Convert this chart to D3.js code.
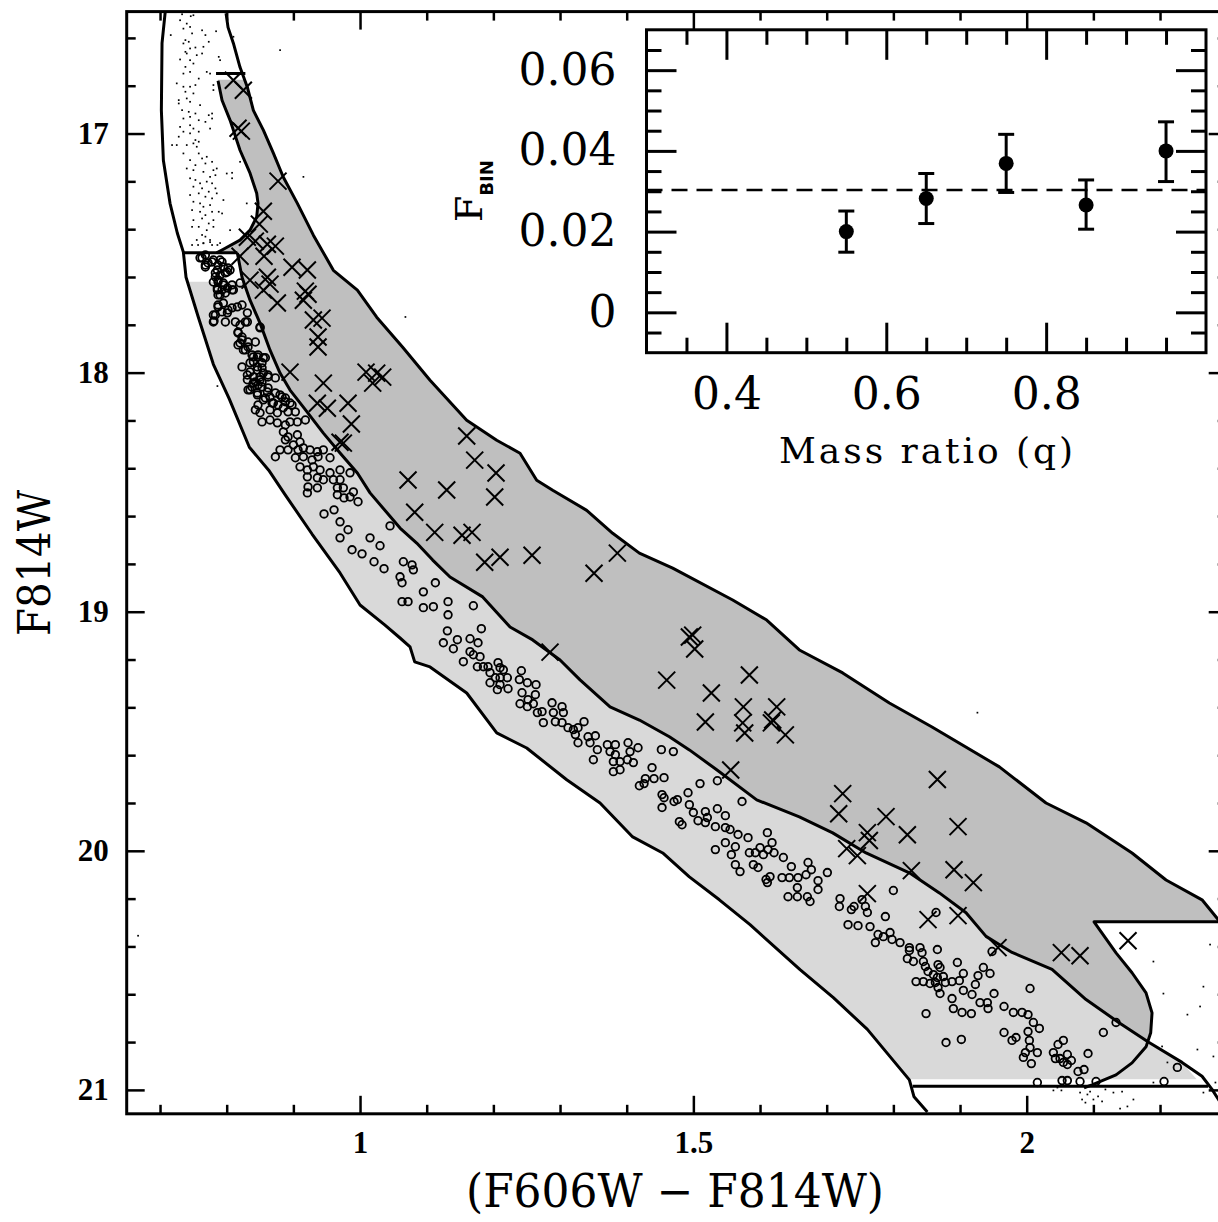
<!DOCTYPE html>
<html>
<head>
<meta charset="utf-8">
<script src="https://cdn.jsdelivr.net/npm/d3@7"></script>
<style>
  html, body { margin: 0; padding: 0; background: #fff; overflow: hidden; }
  svg { display: block; }
</style>
</head>
<body>
<script>
// CMD boundaries, [color, mag]
const blueEdge = [[0.708,16.485],[0.703,16.622],[0.702,16.903],[0.705,17.112],[0.715,17.292],[0.726,17.417],[0.735,17.496],[0.739,17.601],[0.757,17.764],[0.780,17.965],[0.804,18.111],[0.834,18.312],[0.863,18.408],[0.887,18.508],[0.928,18.675],[0.970,18.838],[1.000,18.972],[1.037,19.055],[1.060,19.110],[1.075,19.147],[1.082,19.210],[1.105,19.231],[1.160,19.340],[1.205,19.507],[1.250,19.570],[1.310,19.703],[1.360,19.800],[1.409,19.942],[1.454,20.009],[1.494,20.109],[1.539,20.205],[1.585,20.309],[1.660,20.497],[1.710,20.614],[1.761,20.747],[1.824,20.958],[1.831,21.029],[1.851,21.092]];
const midLine = [[0.816,17.500],[0.823,17.601],[0.835,17.697],[0.850,17.793],[0.865,17.906],[0.880,18.002],[0.895,18.073],[0.915,18.144],[0.945,18.253],[0.970,18.336],[0.996,18.420],[1.015,18.503],[1.060,18.650],[1.085,18.713],[1.109,18.784],[1.135,18.855],[1.184,18.938],[1.225,19.064],[1.259,19.118],[1.300,19.202],[1.330,19.285],[1.375,19.398],[1.419,19.453],[1.464,19.523],[1.494,19.578],[1.535,19.661],[1.595,19.787],[1.659,19.858],[1.709,19.925],[1.759,20.009],[1.824,20.092],[1.869,20.176],[1.909,20.259],[1.939,20.358],[1.978,20.425],[2.038,20.496],[2.089,20.622],[2.138,20.718],[2.183,20.801],[2.233,20.885],[2.263,20.943],[2.278,20.998],[2.290,21.050]];
const redEdge = [[0.799,16.497],[0.802,16.556],[0.810,16.622],[0.820,16.723],[0.831,16.806],[0.840,16.903],[0.855,16.986],[0.870,17.082],[0.885,17.183],[0.906,17.292],[0.930,17.425],[0.960,17.572],[0.996,17.655],[1.025,17.768],[1.064,17.894],[1.105,18.032],[1.160,18.199],[1.205,18.283],[1.240,18.337],[1.265,18.450],[1.289,18.492],[1.340,18.576],[1.379,18.672],[1.419,18.755],[1.469,18.818],[1.559,18.951],[1.610,19.035],[1.659,19.160],[1.724,19.256],[1.794,19.382],[1.858,19.482],[1.959,19.649],[2.029,19.800],[2.089,19.883],[2.158,20.009],[2.209,20.122],[2.263,20.205],[2.285,20.280],[2.300,20.330]];
const binLoop = [[2.300,20.297],[2.101,20.297],[2.134,20.427],[2.158,20.510],[2.179,20.594],[2.188,20.678],[2.186,20.761],[2.179,20.820],[2.158,20.887],[2.134,20.937],[2.098,20.979],[2.086,20.991]];
const toCurve = [[0.787,16.779],[0.793,16.861],[0.805,16.944],[0.820,17.070],[0.835,17.166],[0.845,17.250],[0.847,17.292],[0.845,17.349],[0.835,17.404],[0.820,17.446],[0.795,17.484],[0.785,17.499]];
const topCap = [[0.784,16.749],[0.828,16.749]];
const toBase = [[0.735,17.499],[0.816,17.499]];
const faintCut = [[1.829,20.985],[2.272,20.985]];

// single stars (open circles)
const singles = [[0.763,17.520],[0.768,17.550],[0.778,17.537],[0.790,17.529],[0.795,17.558],[0.783,17.583],[0.801,17.579],[0.805,17.571],[0.780,17.621],[0.787,17.612],[0.795,17.633],[0.786,17.654],[0.790,17.675],[0.808,17.654],[0.820,17.625],[0.787,17.717],[0.795,17.709],[0.802,17.738],[0.816,17.725],[0.823,17.717],[0.783,17.759],[0.780,17.788],[0.798,17.788],[0.813,17.788],[0.831,17.750],[0.820,17.801],[0.831,17.788],[0.817,17.830],[0.823,17.851],[0.832,17.872],[0.820,17.876],[0.828,17.905],[0.843,17.872],[0.850,17.813],[0.840,17.934],[0.847,17.926],[0.858,17.938],[0.835,17.959],[0.846,17.976],[0.853,17.980],[0.823,17.976],[0.831,18.010],[0.840,18.018],[0.850,18.018],[0.862,18.010],[0.873,18.022],[0.840,18.043],[0.847,18.051],[0.853,18.039],[0.835,18.072],[0.846,18.085],[0.861,18.081],[0.865,18.102],[0.855,18.114],[0.870,18.127],[0.880,18.093],[0.888,18.106],[0.895,18.127],[0.843,18.156],[0.850,18.168],[0.865,18.156],[0.876,18.168],[0.885,18.147],[0.892,18.164],[0.903,18.164],[0.853,18.206],[0.865,18.198],[0.876,18.210],[0.888,18.219],[0.895,18.206],[0.906,18.206],[0.918,18.198],[0.885,18.248],[0.892,18.269],[0.906,18.260],[0.910,18.290],[0.888,18.281],[0.900,18.302],[0.907,18.323],[0.915,18.315],[0.925,18.323],[0.936,18.331],[0.945,18.323],[0.880,18.323],[0.892,18.323],[0.873,18.352],[0.903,18.356],[0.915,18.352],[0.928,18.365],[0.937,18.352],[0.955,18.356],[0.910,18.394],[0.921,18.407],[0.930,18.394],[0.940,18.407],[0.955,18.419],[0.970,18.407],[0.985,18.419],[0.921,18.436],[0.936,18.440],[0.945,18.448],[0.960,18.448],[0.970,18.448],[0.922,18.478],[0.936,18.482],[0.966,18.482],[0.975,18.482],[0.990,18.499],[0.921,18.503],[0.966,18.511],[0.985,18.520],
[0.760,17.520],[0.768,17.508],[0.772,17.541],[0.780,17.529],[0.787,17.550],[0.793,17.537],[0.768,17.558],[0.786,17.571],[0.802,17.562],[0.783,17.600],[0.790,17.592],[0.798,17.583],[0.787,17.621],[0.795,17.625],[0.808,17.633],[0.786,17.646],[0.793,17.654],[0.801,17.646],[0.810,17.654],[0.787,17.675],[0.798,17.667],[0.787,17.725],[0.793,17.746],[0.801,17.750],[0.808,17.729],[0.780,17.759],[0.781,17.784],[0.828,17.788],[0.850,17.809],[0.817,17.834],[0.823,17.863],[0.817,17.884],[0.825,17.905],[0.832,17.893],[0.838,17.926],[0.846,17.934],[0.855,17.938],[0.840,17.955],[0.853,17.959],[0.835,17.997],[0.846,17.989],[0.855,18.001],[0.862,18.018],[0.831,18.030],[0.843,18.039],[0.850,18.030],[0.838,18.060],[0.853,18.060],[0.862,18.064],[0.832,18.072],[0.846,18.093],[0.858,18.106],[0.873,18.085],[0.883,18.102],[0.888,18.122],[0.847,18.135],[0.868,18.127],[0.877,18.135],[0.898,18.135],
[0.976,18.524],[0.997,18.540],[0.946,18.591],[0.961,18.574],[0.970,18.624],[0.982,18.657],[0.970,18.691],[0.988,18.741],[1.003,18.758],[1.015,18.691],[1.030,18.724],[1.021,18.791],[1.045,18.641],[1.036,18.820],
[1.065,18.791],[1.078,18.804],[1.080,18.825],[1.060,18.854],[1.063,18.879],[1.113,18.879],[1.095,18.917],[1.063,18.958],[1.072,18.958],[1.132,18.958],[1.095,18.983],[1.110,18.979],[1.132,19.013],[1.170,18.975],[1.131,19.080],[1.182,19.071],[1.146,19.117],[1.125,19.130],[1.140,19.155],[1.165,19.113],[1.177,19.130],[1.165,19.167],[1.170,19.180],[1.155,19.209],[1.180,19.188],[1.176,19.230],[1.185,19.230],[1.192,19.230],[1.207,19.213],[1.210,19.234],[1.215,19.243],[1.195,19.255],[1.203,19.276],[1.210,19.276],[1.221,19.276],[1.195,19.297],[1.210,19.305],[1.206,19.326],[1.222,19.322],[1.242,19.247],[1.239,19.284],[1.251,19.297],[1.264,19.305],[1.243,19.339],[1.240,19.385],[1.252,19.368],[1.263,19.347],[1.251,19.397],[1.260,19.385],[1.266,19.422],[1.273,19.418],[1.275,19.464],[1.288,19.381],[1.290,19.422],[1.293,19.460],[1.303,19.397],[1.305,19.422],[1.303,19.464],[1.312,19.485],[1.320,19.493],[1.327,19.485],[1.323,19.514],[1.336,19.460],[1.327,19.548],[1.342,19.523],[1.353,19.519],[1.345,19.548],[1.356,19.577],[1.350,19.619],[1.371,19.556],[1.383,19.556],[1.375,19.585],[1.383,19.598],[1.380,19.627],[1.390,19.627],[1.401,19.619],[1.410,19.631],[1.380,19.669],[1.390,19.661],[1.402,19.548],[1.405,19.585],[1.417,19.569],[1.452,19.577],[1.470,19.585],[1.438,19.652],[1.428,19.698],[1.441,19.698],[1.456,19.694],[1.419,19.728],[1.426,19.719],[1.453,19.765],[1.456,19.778],[1.453,19.819],[1.471,19.794],[1.476,19.786],[1.492,19.757],[1.510,19.719],[1.536,19.707],[1.573,19.794],[1.494,19.807],[1.500,19.840],[1.518,19.836],[1.536,19.824],[1.548,19.853],[1.479,19.878],[1.483,19.891],[1.507,19.874],[1.518,19.882],[1.533,19.899],[1.521,19.861],[1.548,19.903],[1.555,19.911],[1.548,19.966],[1.563,19.983],[1.567,19.932],[1.582,19.945],[1.611,19.924],[1.533,19.995],[1.557,20.016],[1.584,20.008],[1.593,20.008],[1.600,19.987],[1.605,20.016],[1.612,19.995],[1.618,19.966],[1.621,20.008],[1.635,20.028],[1.563,20.058],[1.570,20.087],[1.590,20.058],[1.597,20.070],[1.609,20.120],[1.615,20.108],[1.611,20.133],[1.633,20.112],[1.644,20.112],[1.647,20.066],[1.657,20.112],[1.669,20.100],[1.672,20.049],[1.677,20.079],[1.687,20.125],[1.701,20.091],[1.656,20.154],[1.642,20.192],[1.656,20.192],[1.671,20.192],[1.675,20.212],[1.687,20.162],[1.720,20.200],[1.719,20.233],[1.737,20.246],[1.741,20.233],[1.753,20.204],[1.758,20.233],[1.761,20.258],[1.788,20.275],[1.800,20.166],
[1.732,20.309],[1.747,20.313],[1.765,20.317],[1.864,20.258],[1.777,20.350],[1.785,20.359],[1.795,20.342],[1.773,20.384],[1.798,20.371],[1.810,20.384],[1.824,20.405],[1.824,20.417],[1.840,20.405],[1.843,20.426],[1.866,20.413],[1.821,20.451],[1.830,20.463],[1.845,20.463],[1.848,20.484],[1.867,20.476],[1.870,20.488],[1.852,20.505],[1.860,20.518],[1.866,20.530],[1.875,20.526],[1.834,20.547],[1.845,20.547],[1.855,20.555],[1.863,20.551],[1.867,20.572],[1.870,20.597],[1.878,20.551],[1.888,20.547],[1.896,20.467],[1.905,20.513],[1.899,20.543],[1.923,20.559],[1.927,20.522],[1.935,20.488],[1.945,20.513],[1.948,20.421],[1.905,20.584],[1.918,20.601],[1.888,20.618],[1.890,20.660],[1.903,20.676],[1.917,20.681],[1.930,20.635],[1.941,20.635],[1.942,20.660],[1.951,20.597],[2.005,20.576],[1.849,20.681],[1.966,20.651],[1.980,20.676],[1.993,20.676],[2.002,20.685],[2.010,20.718],[2.019,20.743],[2.002,20.756],[1.966,20.760],[1.978,20.793],[1.984,20.781],[2.004,20.793],[2.005,20.823],[2.016,20.844],[1.998,20.844],[1.995,20.864],[2.007,20.890],[1.879,20.802],[1.902,20.789],[2.040,20.844],[2.047,20.810],[2.055,20.793],[2.043,20.869],[2.050,20.869],[2.061,20.852],[2.055,20.885],[2.067,20.877],[2.061,20.894],[2.092,20.848],[2.077,20.923],[2.086,20.915],[2.016,20.969],[2.053,20.961],[2.061,20.961],[2.080,20.965],[2.104,20.965],[2.115,20.760],[2.134,20.718],[2.206,20.965],[2.226,20.906]];

// binary candidates (crosses)
const binaries = [[0.810,16.777],[0.825,16.819],[0.817,16.978],[0.822,16.990],[0.877,17.199],[0.855,17.325],[0.849,17.379],[0.831,17.434],[0.843,17.450],[0.861,17.463],[0.873,17.471],[0.820,17.513],[0.856,17.513],[0.898,17.559],[0.921,17.571],[0.835,17.613],[0.861,17.601],[0.865,17.630],[0.855,17.655],[0.918,17.659],[0.922,17.672],[0.915,17.697],[0.876,17.709],[0.930,17.780],[0.943,17.772],[0.937,17.851],[0.937,17.893],[0.895,17.998],[0.945,18.044],[1.009,17.998],[1.025,18.002],[1.034,18.019],[1.019,18.044],[0.936,18.128],[0.951,18.149],[0.982,18.128],[0.987,18.215],[0.970,18.291],[0.975,18.295],[1.072,18.449],[1.160,18.265],[1.172,18.366],[1.204,18.420],[1.130,18.491],[1.202,18.520],[1.082,18.584],[1.112,18.668],[1.153,18.680],[1.168,18.668],[1.187,18.793],[1.210,18.772],[1.258,18.764],[1.351,18.839],[1.386,18.755],[1.285,19.169],[1.499,19.098],[1.494,19.106],[1.502,19.156],[1.460,19.286],[1.584,19.265],[1.527,19.340],[1.575,19.398],[1.518,19.461],[1.574,19.465],[1.577,19.507],[1.625,19.398],[1.619,19.453],[1.638,19.515],[1.617,19.465],[1.556,19.662],[1.724,19.761],[1.718,19.845],[1.789,19.857],[1.761,19.924],[1.764,19.957],[1.730,19.991],[1.746,20.020],[1.866,19.702],[1.821,19.933],[1.897,19.899],[1.827,20.083],[1.891,20.079],[1.920,20.133],[1.761,20.179],[1.852,20.288],[1.897,20.271],[1.957,20.405],[2.052,20.426],[2.080,20.439],[2.152,20.376]];

// everything else (small dots)
const fieldDots = [[0.733,16.501],[0.746,16.509],[0.750,16.505],[0.730,16.526],[0.740,16.540],[0.735,16.561],[0.745,16.554],[0.716,16.588],[0.748,16.581],[0.763,16.568],[0.768,16.588],[0.784,16.572],[0.738,16.609],[0.735,16.623],[0.743,16.616],[0.773,16.616],[0.765,16.637],[0.745,16.644],[0.753,16.640],[0.738,16.658],[0.740,16.665],[0.755,16.672],[0.763,16.665],[0.788,16.679],[0.790,16.693],[0.730,16.690],[0.745,16.693],[0.738,16.721],[0.750,16.707],[0.735,16.749],[0.745,16.742],[0.770,16.742],[0.775,16.749],[0.758,16.770],[0.725,16.790],[0.735,16.804],[0.745,16.804],[0.753,16.797],[0.780,16.797],[0.780,16.818],[0.738,16.825],[0.750,16.832],[0.728,16.860],[0.740,16.853],[0.745,16.867],[0.728,16.874],[0.760,16.881],[0.733,16.902],[0.743,16.909],[0.753,16.916],[0.773,16.923],[0.778,16.916],[0.735,16.937],[0.745,16.930],[0.758,16.944],[0.768,16.951],[0.778,16.937],[0.730,16.972],[0.745,16.965],[0.750,16.979],[0.735,16.992],[0.728,17.013],[0.745,16.999],[0.758,16.992],[0.775,16.979],[0.753,17.027],[0.758,17.034],[0.718,17.048],[0.725,17.048],[0.740,17.048],[0.750,17.041],[0.755,17.055],[0.735,17.083],[0.758,17.083],[0.745,17.111],[0.763,17.104],[0.770,17.097],[0.753,17.132],[0.768,17.125],[0.778,17.118],[0.740,17.146],[0.750,17.153],[0.765,17.160],[0.780,17.153],[0.785,17.146],[0.775,17.181],[0.783,17.174],[0.800,17.167],[0.808,17.164],[0.808,17.187],[0.745,17.187],[0.753,17.194],[0.760,17.208],[0.770,17.201],[0.778,17.208],[0.750,17.222],[0.763,17.229],[0.773,17.243],[0.783,17.229],[0.745,17.257],[0.758,17.250],[0.768,17.264],[0.778,17.271],[0.785,17.250],[0.750,17.285],[0.760,17.292],[0.765,17.306],[0.775,17.299],[0.795,17.278],[0.830,17.292],[0.748,17.320],[0.760,17.327],[0.768,17.341],[0.778,17.327],[0.788,17.327],[0.793,17.334],[0.750,17.362],[0.763,17.355],[0.773,17.376],[0.780,17.362],[0.748,17.390],[0.758,17.390],[0.770,17.404],[0.780,17.390],[0.763,17.424],[0.768,17.431],[0.775,17.445],[0.755,17.445],[0.765,17.459],[0.805,17.404],[0.748,17.466],[0.757,17.466],[0.765,17.458],[0.775,17.454],[0.778,17.466],[0.786,17.466],[0.790,17.458],
[0.820,17.118],[0.915,17.181],[0.880,16.651],[0.810,16.595],[1.068,17.767],[0.786,18.056],[0.667,20.355],[1.926,19.422],[2.275,20.392],[2.190,20.463],[2.265,20.568],[2.205,20.597],[2.260,20.651],[2.241,20.685],[2.203,20.818],[2.280,20.860],[2.256,20.831],[2.211,20.885],[2.190,20.969],[2.040,21.002],[2.046,20.990],[2.080,21.011],[2.083,21.040],[2.088,21.053],[2.091,21.019],[2.095,21.007],[2.107,21.027],[2.113,21.048],[2.118,20.998],[2.130,21.011],[2.143,21.007],[2.151,21.069],[2.160,21.040],[2.283,20.969],[2.265,21.011],[2.140,21.078],[2.052,21.002],[2.100,21.040]];

// main axes ticks
const xTicks = [1, 1.5, 2];
const xMinor = [0.7, 0.8, 0.9, 1.1, 1.2, 1.3, 1.4, 1.6, 1.7, 1.8, 1.9, 2.1, 2.2];
const yTicks = [17, 18, 19, 20, 21];
const yMinor = [16.6, 16.8, 17.2, 17.4, 17.6, 17.8, 18.2, 18.4, 18.6, 18.8, 19.2, 19.4, 19.6, 19.8, 20.2, 20.4, 20.6, 20.8];

// inset: binary fraction vs mass ratio
const massRatio = [0.55, 0.65, 0.75, 0.85, 0.95];
const fBin = [0.0200, 0.0282, 0.0369, 0.0266, 0.0400];
const fBinLow = [0.0149, 0.0220, 0.0297, 0.0206, 0.0324];
const fBinHigh = [0.0251, 0.0344, 0.0441, 0.0328, 0.0472];
const fBinMean = 0.0303;
const qTicks = [0.4, 0.6, 0.8];
const qMinor = [0.35, 0.45, 0.5, 0.55, 0.65, 0.7, 0.75, 0.85, 0.9, 0.95];
const fTicks = [0, 0.02, 0.04, 0.06];
const fMinor = [-0.005, 0.005, 0.01, 0.015, 0.025, 0.03, 0.035, 0.045, 0.05, 0.055, 0.065];

const W = 1218, H = 1222;
const svg = d3.select("body").append("svg").attr("width", W).attr("height", H);

const x = d3.scaleLinear().domain([0.65, 2.3]).range([126.7, 1226.7]);
const y = d3.scaleLinear().domain([16.49, 21.1]).range([11.6, 1113.8]);
const line = d3.line().x(d => x(d[0])).y(d => y(d[1]));

// color of a boundary at a given magnitude
function colorAt(pts, m) {
  for (let i = 1; i < pts.length; i++) {
    const a = pts[i - 1], b = pts[i];
    if ((a[1] - m) * (b[1] - m) <= 0) return a[0] + (b[0] - a[0]) * (m - a[1]) / (b[1] - a[1]);
  }
  return pts[pts.length - 1][0];
}

const lightTop = 17.62, lightBot = 20.956;
const lightPoly = [[colorAt(blueEdge, lightTop), lightTop]]
  .concat(blueEdge.filter(p => p[1] > lightTop && p[1] < lightBot))
  .concat([[colorAt(blueEdge, lightBot), lightBot], [2.255, lightBot]])
  .concat(midLine.filter(p => p[1] > lightTop && p[1] < 20.94).reverse())
  .concat([[colorAt(midLine, lightTop), lightTop]]);

const darkTop = 16.775, cross = 20.80;
const darkPoly = [[toCurve[0][0], darkTop], [colorAt(redEdge, darkTop), darkTop]]
  .concat(redEdge.filter(p => p[1] > darkTop))
  .concat(binLoop.filter(p => p[1] < cross))
  .concat([[colorAt(midLine, cross), cross]])
  .concat(midLine.filter(p => p[1] < cross).reverse())
  .concat(toCurve.slice().reverse());

svg.append("clipPath").attr("id", "plotClip").append("rect")
  .attr("x", x(0.65)).attr("y", y(16.49))
  .attr("width", x(2.3) - x(0.65)).attr("height", y(21.1) - y(16.49));

const plot = svg.append("g").attr("clip-path", "url(#plotClip)");

plot.append("path").datum(darkPoly).attr("d", line).attr("fill", "#bfbfbf");
plot.append("path").datum(lightPoly).attr("d", line).attr("fill", "#d9d9d9");

plot.selectAll(".bound")
  .data([blueEdge, midLine, redEdge, binLoop, toCurve, topCap, toBase, faintCut])
  .join("path")
  .attr("d", line)
  .attr("fill", "none")
  .attr("stroke", "#000")
  .attr("stroke-width", 3)
  .attr("stroke-linejoin", "round");

plot.selectAll(".dot")
  .data(fieldDots)
  .join("rect")
  .attr("x", d => x(d[0]) - 0.8)
  .attr("y", d => y(d[1]) - 0.8)
  .attr("width", 1.7)
  .attr("height", 1.7)
  .attr("fill", "#000");

plot.selectAll(".single")
  .data(singles)
  .join("circle")
  .attr("cx", d => x(d[0]))
  .attr("cy", d => y(d[1]))
  .attr("r", 3.8)
  .attr("fill", "none")
  .attr("stroke", "#000")
  .attr("stroke-width", 1.8);

plot.selectAll(".binary")
  .data(binaries)
  .join("path")
  .attr("transform", d => `translate(${x(d[0])},${y(d[1])})`)
  .attr("d", "M-8.5,-8.5L8.5,8.5M-8.5,8.5L8.5,-8.5")
  .attr("stroke", "#000")
  .attr("stroke-width", 2);

// frame and ticks
function styleAxis(g, width) {
  g.select(".domain").remove();
  g.selectAll("line").attr("stroke-width", width);
}
const tickFont = "'Liberation Serif', 'DejaVu Serif', serif";

svg.append("g").attr("transform", `translate(${x(0.65)},0)`)
  .call(d3.axisLeft(y).tickValues(yTicks).tickSizeInner(-18).tickSizeOuter(0).tickPadding(18).tickFormat(d3.format("d")))
  .call(g => styleAxis(g, 2.5))
  .attr("font-family", tickFont).attr("font-size", 31).attr("font-weight", "bold");
svg.append("g").attr("transform", `translate(${x(0.65)},0)`)
  .call(d3.axisLeft(y).tickValues(yMinor).tickSizeInner(-9).tickSizeOuter(0).tickFormat(() => ""))
  .call(g => styleAxis(g, 2.5));
svg.append("g").attr("transform", `translate(${x(2.3)},0)`)
  .call(d3.axisRight(y).tickValues(yTicks).tickSizeInner(-18).tickSizeOuter(0).tickFormat(() => ""))
  .call(g => styleAxis(g, 2.5));
svg.append("g").attr("transform", `translate(${x(2.3)},0)`)
  .call(d3.axisRight(y).tickValues(yMinor).tickSizeInner(-9).tickSizeOuter(0).tickFormat(() => ""))
  .call(g => styleAxis(g, 2.5));

svg.append("g").attr("transform", `translate(0,${y(21.1)})`)
  .call(d3.axisBottom(x).tickValues(xTicks).tickSizeInner(-18).tickSizeOuter(0).tickPadding(17).tickFormat(d => String(d)))
  .call(g => styleAxis(g, 2.5))
  .attr("font-family", tickFont).attr("font-size", 31).attr("font-weight", "bold");
svg.append("g").attr("transform", `translate(0,${y(21.1)})`)
  .call(d3.axisBottom(x).tickValues(xMinor).tickSizeInner(-9).tickSizeOuter(0).tickFormat(() => ""))
  .call(g => styleAxis(g, 2.5));
svg.append("g").attr("transform", `translate(0,${y(16.49)})`)
  .call(d3.axisTop(x).tickValues(xTicks).tickSizeInner(-18).tickSizeOuter(0).tickFormat(() => ""))
  .call(g => styleAxis(g, 2.5));
svg.append("g").attr("transform", `translate(0,${y(16.49)})`)
  .call(d3.axisTop(x).tickValues(xMinor).tickSizeInner(-9).tickSizeOuter(0).tickFormat(() => ""))
  .call(g => styleAxis(g, 2.5));

svg.append("rect")
  .attr("x", x(0.65)).attr("y", y(16.49))
  .attr("width", x(2.3) - x(0.65)).attr("height", y(21.1) - y(16.49))
  .attr("fill", "none").attr("stroke", "#000").attr("stroke-width", 3);

const titleFont = "'DejaVu Serif', 'Liberation Serif', serif";
svg.append("text")
  .attr("x", 675).attr("y", 1207)
  .attr("text-anchor", "middle")
  .attr("font-family", titleFont).attr("font-size", 46)
  .attr("textLength", 418).attr("lengthAdjust", "spacingAndGlyphs")
  .text("(F606W \u2212 F814W)");
svg.append("text")
  .attr("transform", "translate(50,563) rotate(-90)")
  .attr("text-anchor", "middle")
  .attr("font-family", titleFont).attr("font-size", 44)
  .attr("textLength", 146).attr("lengthAdjust", "spacingAndGlyphs")
  .text("F814W");

// inset
const qx = d3.scaleLinear().domain([0.3, 1.0]).range([646.5, 1206]);
const fy = d3.scaleLinear().domain([-0.01, 0.07]).range([352.7, 29.8]);
const inset = svg.append("g");

inset.append("rect")
  .attr("x", qx(0.3)).attr("y", fy(0.07))
  .attr("width", qx(1.0) - qx(0.3)).attr("height", fy(-0.01) - fy(0.07))
  .attr("fill", "#fff");

inset.append("line")
  .attr("x1", qx(0.3)).attr("x2", qx(1.0))
  .attr("y1", fy(fBinMean)).attr("y2", fy(fBinMean))
  .attr("stroke", "#000").attr("stroke-width", 2.5).attr("stroke-dasharray", "16,9");

const pts = massRatio.map((q, i) => ({ q, f: fBin[i], lo: fBinLow[i], hi: fBinHigh[i] }));
const bars = inset.selectAll(".eb").data(pts).join("g").attr("stroke", "#000").attr("stroke-width", 3);
bars.append("line").attr("x1", d => qx(d.q)).attr("x2", d => qx(d.q)).attr("y1", d => fy(d.lo)).attr("y2", d => fy(d.hi));
bars.append("line").attr("x1", d => qx(d.q) - 8).attr("x2", d => qx(d.q) + 8).attr("y1", d => fy(d.lo)).attr("y2", d => fy(d.lo));
bars.append("line").attr("x1", d => qx(d.q) - 8).attr("x2", d => qx(d.q) + 8).attr("y1", d => fy(d.hi)).attr("y2", d => fy(d.hi));
inset.selectAll(".pt").data(pts).join("circle")
  .attr("cx", d => qx(d.q)).attr("cy", d => fy(d.f)).attr("r", 7.5).attr("fill", "#000");

const insetFont = "'DejaVu Serif', serif";
inset.append("g").attr("transform", `translate(${qx(0.3)},0)`)
  .call(d3.axisLeft(fy).tickValues(fTicks).tickSizeInner(-30).tickSizeOuter(0).tickPadding(30)
    .tickFormat(d => d === 0 ? "0" : d3.format(".2f")(d)))
  .call(g => styleAxis(g, 3))
  .attr("font-family", insetFont).attr("font-size", 44);
inset.append("g").attr("transform", `translate(${qx(0.3)},0)`)
  .call(d3.axisLeft(fy).tickValues(fMinor).tickSizeInner(-15).tickSizeOuter(0).tickFormat(() => ""))
  .call(g => styleAxis(g, 3));
inset.append("g").attr("transform", `translate(${qx(1.0)},0)`)
  .call(d3.axisRight(fy).tickValues(fTicks).tickSizeInner(-30).tickSizeOuter(0).tickFormat(() => ""))
  .call(g => styleAxis(g, 3));
inset.append("g").attr("transform", `translate(${qx(1.0)},0)`)
  .call(d3.axisRight(fy).tickValues(fMinor).tickSizeInner(-15).tickSizeOuter(0).tickFormat(() => ""))
  .call(g => styleAxis(g, 3));
inset.append("g").attr("transform", `translate(0,${fy(-0.01)})`)
  .call(d3.axisBottom(qx).tickValues(qTicks).tickSizeInner(-30).tickSizeOuter(0).tickPadding(25).tickFormat(d3.format(".1f")))
  .call(g => styleAxis(g, 3))
  .attr("font-family", insetFont).attr("font-size", 44);
inset.append("g").attr("transform", `translate(0,${fy(-0.01)})`)
  .call(d3.axisBottom(qx).tickValues(qMinor).tickSizeInner(-15).tickSizeOuter(0).tickFormat(() => ""))
  .call(g => styleAxis(g, 3));
inset.append("g").attr("transform", `translate(0,${fy(0.07)})`)
  .call(d3.axisTop(qx).tickValues(qTicks).tickSizeInner(-30).tickSizeOuter(0).tickFormat(() => ""))
  .call(g => styleAxis(g, 3));
inset.append("g").attr("transform", `translate(0,${fy(0.07)})`)
  .call(d3.axisTop(qx).tickValues(qMinor).tickSizeInner(-15).tickSizeOuter(0).tickFormat(() => ""))
  .call(g => styleAxis(g, 3));

inset.append("rect")
  .attr("x", qx(0.3)).attr("y", fy(0.07))
  .attr("width", qx(1.0) - qx(0.3)).attr("height", fy(-0.01) - fy(0.07))
  .attr("fill", "none").attr("stroke", "#000").attr("stroke-width", 3);

inset.append("text")
  .attr("x", 926).attr("y", 463)
  .attr("text-anchor", "middle")
  .attr("font-family", insetFont).attr("font-size", 36)
  .attr("textLength", 294).attr("lengthAdjust", "spacing")
  .text("Mass ratio (q)");

const fLabel = inset.append("text")
  .attr("transform", "translate(482,222) rotate(-90)")
  .attr("font-family", insetFont);
fLabel.append("tspan").attr("font-size", 38).text("F");
fLabel.append("tspan").attr("font-size", 18).attr("font-weight", "bold")
  .attr("font-family", "'DejaVu Sans', sans-serif").attr("dy", 11).text("BIN");
</script>
</body>
</html>
